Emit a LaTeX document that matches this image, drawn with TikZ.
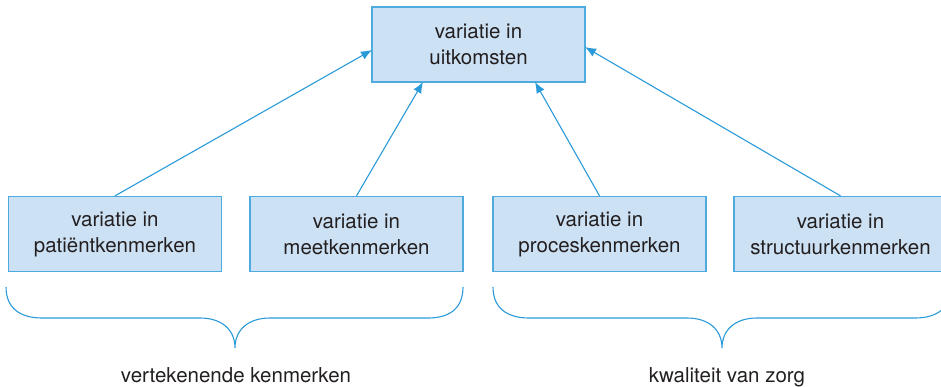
\documentclass[tikz,border=0pt]{standalone}
\usepackage{fontspec}
\setmainfont{TeX Gyre Heros}
\usetikzlibrary{arrows.meta,calc}
\definecolor{boxfill}{HTML}{CDE1F4}
\definecolor{boxline}{HTML}{4FABDF}
\definecolor{arrowc}{HTML}{2A9AD8}
\definecolor{txt}{HTML}{231F20}
\begin{document}
\begin{tikzpicture}[x=1pt,y=-1pt,
  vbox/.style={draw=boxline, fill=boxfill, line width=1.3pt, minimum width=213pt, minimum height=75pt,
    inner sep=0pt, align=center, font=\fontsize{20.5}{26}\selectfont, text=txt},
  conn/.style={draw=arrowc, line width=1.1pt, -{Latex[length=11pt,width=9pt]}},
  brace/.style={draw=arrowc, line width=1.1pt},
  lab/.style={font=\fontsize{20.5}{26}\selectfont, text=txt, anchor=base}]
\useasboundingbox (0,0) rectangle (941,387);
\clip (0,0) rectangle (941,387);
\node[vbox] (top) at (478.5,44.5) {variatie in\\uitkomsten};
\node[vbox] (b1) at (115,234) {variatie in\\patiëntkenmerken};
\node[vbox] (b2) at (356.5,234) {variatie in\\meetkenmerken};
\node[vbox] (b3) at (599.5,234) {variatie in\\proceskenmerken};
\node[vbox] (b4) at (840.5,234) {variatie in\\structuurkenmerken};
\coordinate (t1) at (372,50);
\coordinate (t2) at (423,82);
\coordinate (t3) at (535,82);
\coordinate (t4) at (585,47);
\draw[conn] (b1.north) -- (t1);
\draw[conn] (b2.north) -- (t2);
\draw[conn] (b3.north) -- (t3);
\draw[conn] (b4.north) -- (t4);
% braces
\coordinate (lb) at (235,348);
\coordinate (rb) at (722,348);
\draw[brace] (6,287) .. controls (6,308) and (20,318) .. (42,318) -- (200,318)
  .. controls (222,318) and (235,330) .. (lb)
  .. controls (235,330) and (248,318) .. (270,318) -- (428,318)
  .. controls (450,318) and (463,308) .. (463,287);
\draw[brace] (493,287) .. controls (493,308) and (507,318) .. (529,318) -- (687,318)
  .. controls (709,318) and (722,330) .. (rb)
  .. controls (722,330) and (735,318) .. (757,318) -- (915,318)
  .. controls (937,318) and (951,308) .. (951,287);
\node[lab] (l1) at (236,382) {vertekenende kenmerken};
\node[lab] (l2) at (727,382) {kwaliteit van zorg};
\end{tikzpicture}
\end{document}
